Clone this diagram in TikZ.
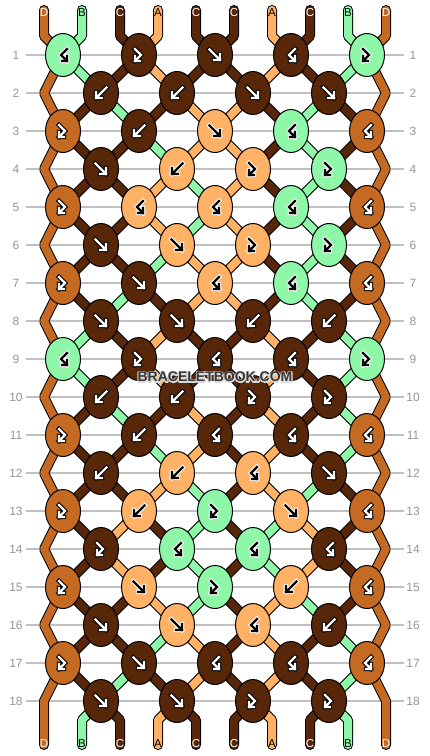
\documentclass[tikz,border=0pt]{standalone}
\usepackage{fontspec}
\setmainfont{Liberation Sans}
\usetikzlibrary{shapes.geometric}
\definecolor{colD}{RGB}{196,106,34}
\definecolor{colB}{RGB}{142,248,168}
\definecolor{colC}{RGB}{88,38,8}
\definecolor{colA}{RGB}{255,177,102}
\definecolor{gridgray}{RGB}{192,192,192}
\definecolor{labgray}{RGB}{150,150,150}
\definecolor{wmgray}{RGB}{55,55,55}
\colorlet{fgA}{black}\colorlet{olA}{white}
\colorlet{fgB}{black}\colorlet{olB}{white}
\colorlet{fgC}{white}\colorlet{olC}{black}
\colorlet{fgD}{white}\colorlet{olD}{black}
\newcommand\haloText[1]{\rlap{\special{pdf:literal direct 1 Tr 2.2 w 0.86 0.86 0.86 RG 1 j}#1\special{pdf:literal direct 0 Tr}}#1}
\begin{document}
\begin{tikzpicture}[x=1pt,y=-1pt,
  strand/.style={draw=black, line width=1pt, double=#1, double distance=8pt, line cap=round, line join=bevel},
  knot/.style={ellipse, draw=black, line width=1pt, minimum width=35pt, minimum height=43pt, inner sep=0pt, outer sep=0pt, fill=#1},
  gly/.style={line cap=rect, line join=miter},
  gridline/.style={draw=gridgray, line width=1.3pt},
  rowlab/.style={text=labgray, font=\fontsize{12}{12}\selectfont, inner sep=0pt},
  endlab/.style={font=\fontsize{11.5}{11.5}\selectfont, inner sep=0pt},
  wm/.style={font=\fontsize{14}{14}\selectfont\bfseries, inner sep=0pt}]
\useasboundingbox (0,0) rectangle (430,756);
\fill[white] (0,0) rectangle (430,756);

% grid lines and row numbers
\foreach \r in {1,...,18}{
  \pgfmathsetmacro\yy{55+38*(\r-1)}
  \draw[gridline] (26,\yy) -- (404,\yy);
  \node[rowlab] (rl-\r) at (16,\yy) {\r};
  \node[rowlab] (rr-\r) at (413,\yy) {\r};
}

% string position coordinates
\foreach \p in {0,...,9}{
  \coordinate (t-\p) at (44+38*\p,10);
  \coordinate (s-0-\p) at (44+38*\p,36);
  \coordinate (s-19-\p) at (44+38*\p,720);
  \coordinate (b-\p) at (44+38*\p,745);
}
\foreach \r in {1,...,18}{
  \pgfmathsetmacro\yy{55+38*(\r-1)}
  \foreach \p in {0,...,9}{
    \pgfmathsetmacro\xx{isodd(\r) ? 63+76*floor(\p/2) : (\p==0 ? 44 : (\p==9 ? 386 : 101+76*floor((\p-1)/2)))}
    \coordinate (s-\r-\p) at (\xx,\yy);
  }
}

% edge strings
\draw[strand=colD] (t-0) \foreach \r in {0,...,19}{ -- (s-\r-0)} -- (b-0);
\draw[strand=colD] (t-9) \foreach \r in {0,...,19}{ -- (s-\r-9)} -- (b-9);

% inner string segments
\foreach \r/\st in {
 0/{D,B,C,A,C,C,A,C,B,D},
 1/{D,B,C,A,C,C,A,C,B,D},
 2/{D,C,B,C,A,A,C,B,C,D},
 3/{D,C,C,B,A,A,C,B,C,D},
 4/{D,C,C,A,B,A,C,B,C,D},
 5/{D,C,C,A,B,A,C,B,C,D},
 6/{D,C,C,B,A,A,C,B,C,D},
 7/{D,C,B,C,A,A,C,B,C,D},
 8/{D,B,C,A,C,C,A,C,B,D},
 9/{D,B,C,A,C,C,A,C,B,D},
 10/{D,C,B,C,A,C,A,C,B,D},
 11/{D,C,C,B,A,C,A,C,B,D},
 12/{D,C,C,A,B,C,A,B,C,D},
 13/{D,C,A,C,B,C,B,A,C,D},
 14/{D,C,A,C,B,C,B,A,C,D},
 15/{D,C,C,A,B,C,A,B,C,D},
 16/{D,C,C,B,A,C,A,C,B,D},
 17/{D,C,B,C,A,C,A,C,B,D},
 18/{D,B,C,A,C,C,A,C,B,D}}{
  \pgfmathtruncatemacro\rn{\r+1}
  \foreach \c [count=\p from 0] in \st {
    \ifnum\p>0 \ifnum\p<9
      \ifnum\r=0
        \draw[strand=col\c] (t-\p) -- (s-0-\p) -- (s-1-\p);
      \else\ifnum\r=18
        \draw[strand=col\c] (s-18-\p) -- (s-19-\p) -- (b-\p);
      \else
        \draw[strand=col\c] (s-\r-\p) -- (s-\rn-\p);
      \fi\fi
    \fi\fi
  }
}

% knots: kind (0 straight, 1 hooked) / mirror / colour
\foreach \r/\kl in {
 1/{1/-1/B,1/1/C,0/1/C,1/-1/C,1/1/B},
 2/{0/-1/C,0/-1/C,0/1/C,0/1/C},
 3/{1/1/D,0/-1/C,0/1/A,1/-1/B,1/-1/D},
 4/{0/1/C,0/-1/A,1/1/A,1/1/B},
 5/{1/1/D,1/-1/A,1/-1/A,1/-1/B,1/-1/D},
 6/{0/1/C,0/1/A,1/1/A,1/1/B},
 7/{1/1/D,0/1/C,1/-1/A,1/-1/B,1/-1/D},
 8/{0/1/C,0/1/C,0/-1/C,0/-1/C},
 9/{1/-1/B,1/1/C,1/-1/C,1/-1/C,1/1/B},
 10/{0/-1/C,0/-1/C,1/1/C,1/1/C},
 11/{1/1/D,0/-1/C,1/-1/C,1/-1/C,1/-1/D},
 12/{0/-1/C,0/-1/A,1/-1/A,0/1/C},
 13/{1/1/D,0/-1/A,1/1/B,0/1/A,1/-1/D},
 14/{1/1/C,1/-1/B,1/-1/B,1/-1/C},
 15/{1/1/D,0/1/A,1/1/B,0/-1/A,1/-1/D},
 16/{0/1/C,0/1/A,1/-1/A,0/-1/C},
 17/{1/1/D,0/1/C,1/-1/C,1/-1/C,1/-1/D},
 18/{0/1/C,0/1/C,1/1/C,1/1/C}}{
  \pgfmathsetmacro\yy{55+38*(\r-1)}
  \pgfmathsetmacro\xo{isodd(\r) ? 63 : 101}
  \foreach \k/\m/\c [count=\i from 0] in \kl {
    \pgfmathsetmacro\xx{\xo+76*\i}
    \node[knot=col\c] (k-\r-\i) at (\xx,\yy) {};
    \begin{scope}[shift={(k-\r-\i.center)}, xscale=\m]
      \ifnum\k=0
        \draw[gly, draw=ol\c, line width=4.4pt] (-5.5,-5.5) -- (5,5) (-1,5) -- (5,5) -- (5,-1);
        \draw[gly, draw=fg\c, line width=2.2pt] (-5.5,-5.5) -- (5,5) (-1,5) -- (5,5) -- (5,-1);
      \else
        \draw[gly, draw=ol\c, line width=4.4pt] (-4,-6) -- (2,0) -- (-4,6) (-4,1) -- (-4,6) -- (1,6);
        \draw[gly, draw=fg\c, line width=2.2pt] (-4,-6) -- (2,0) -- (-4,6) (-4,1) -- (-4,6) -- (1,6);
      \fi
    \end{scope}
  }
}

% end labels
\foreach \c [count=\p from 0] in {D,B,C,A,C,C,A,C,B,D}{
  \node[endlab, text=fg\c] (tl-\p) at (44+38*\p,13) {\c};
  \node[endlab, text=fg\c] (bl-\p) at (44+38*\p,744) {\c};
}

% watermark
\node[wm, text=wmgray] (wm) at (215,377) {\haloText{BRACELETBOOK.COM}};
\end{tikzpicture}
\end{document}
